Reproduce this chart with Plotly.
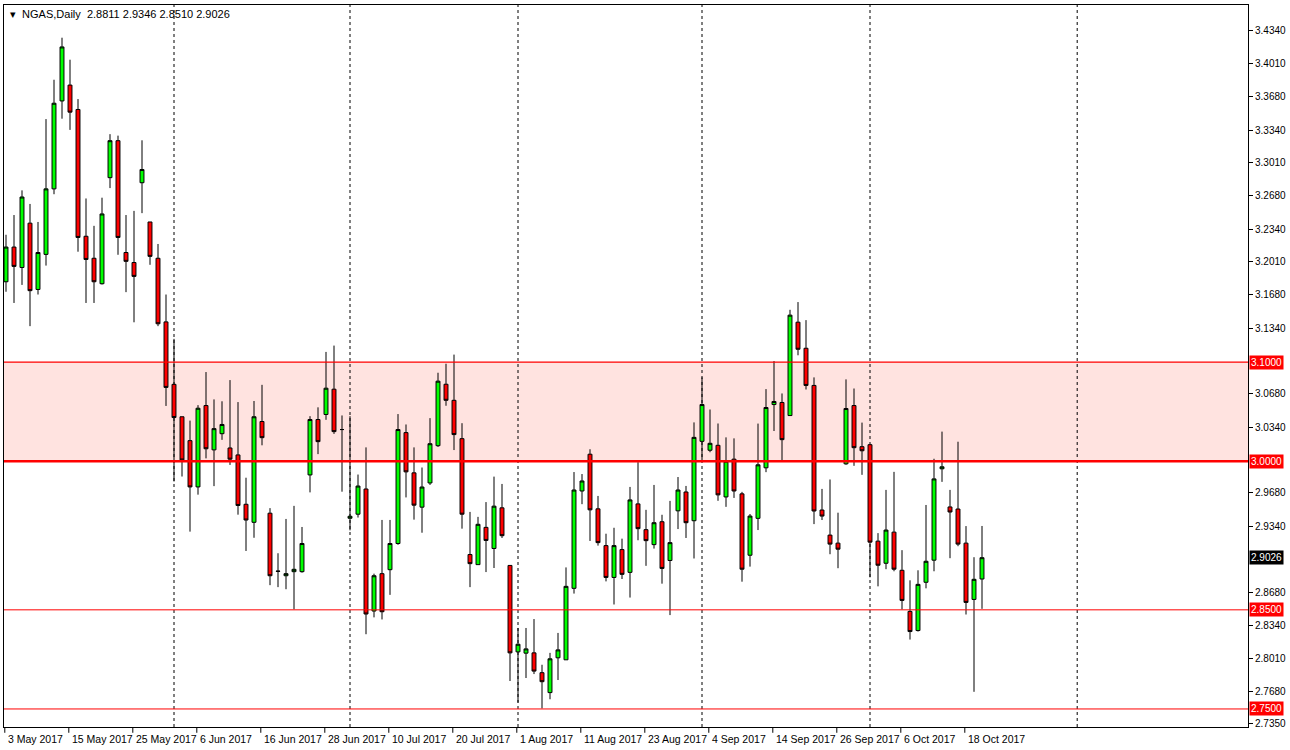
import plotly.graph_objects as go
import pandas as pd

dates = pd.bdate_range("2017-05-03", periods=123)
opens = [3.181,3.216,3.1954,3.2401,3.1732,3.2086,3.2747,3.3634,3.3794,3.3548,3.2269,3.2047,3.179,3.286,3.3233,3.2105,3.2004,3.2809,3.2413,3.2047,3.1405,3.0775,3.0448,3.0207,2.974,3.0561,3.0114,3.0277,3.0133,3.0063,2.9565,
 2.9383,3.040,2.9475,2.8888,2.8844,2.8885,2.8885,2.9861,3.042,3.0471,3.0726,3.0319,2.9424,2.9465,2.9719,2.8488,2.8865,2.8905,2.9169,3.0288,2.9882,2.9536,2.978,3.0156,3.0776,3.0614,3.0227,2.9058,2.8956,2.9332,2.9119,
 2.9529,2.8948,2.8076,2.8063,2.8066,2.7866,2.7665,2.8016,2.7996,2.8717,2.9699,3.007,2.9519,2.9148,2.8827,2.9108,2.8878,2.9569,2.9309,2.9158,2.9389,2.8998,2.9499,2.9689,2.9399,3.020,3.011,3.016,2.9639,3.002,
 2.967,2.9051,2.9423,2.9933,3.0571,3.0592,3.046,3.1402,3.1139,3.0764,2.9507,2.9254,2.9173,2.9973,3.0561,3.0146,3.0166,2.9193,2.897,2.9284,2.8899,2.8484,2.8291,2.8778,2.9001,2.9923,2.9538,2.9517,2.9173,2.8605,2.8811]
highs = [3.2284,3.2483,3.2732,3.2595,3.2413,3.3451,3.3848,3.4272,3.405,3.3653,3.265,3.2374,3.2658,3.3299,3.3284,3.2483,3.2525,3.3237,3.2413,3.2191,3.1681,3.1234,3.0448,3.0409,3.0565,3.0899,3.0623,3.0604,3.0818,3.0596,2.9833,
 3.0607,3.077,2.9526,2.9071,2.9417,2.9549,2.9336,3.0454,3.0543,3.1102,3.1166,3.0461,3.0454,2.9865,3.0139,2.8865,2.9407,2.9407,3.0475,3.037,3.0139,2.9936,3.0434,3.0892,3.0983,3.1075,3.0383,2.9488,2.9438,2.9587,2.9844,
 2.977,2.8948,2.8317,2.8317,2.8407,2.7946,2.8066,2.8267,2.8928,2.989,2.987,3.012,2.9649,2.9268,2.9328,2.9218,2.974,2.999,2.9509,2.976,2.9459,2.9599,2.984,2.975,3.0391,3.0845,3.0521,3.038,3.024,3.023,
 2.969,2.9467,3.0379,3.0727,3.101,3.0683,3.1527,3.1605,3.1423,3.0845,2.972,2.9815,2.948,3.0825,3.0733,3.0389,3.0166,2.9274,2.971,2.9892,2.9102,2.8798,2.8899,2.9558,3.0024,3.0298,2.971,3.0196,2.9345,2.9031,2.9346]
lows = [3.1709,3.1596,3.1778,3.1362,3.1681,3.1973,3.2693,3.3455,3.3342,3.2113,3.1596,3.1596,3.1782,3.2755,3.2082,3.1705,3.1401,3.2502,3.1981,3.1362,3.0557,2.9795,2.9845,2.9289,2.9662,3.0028,2.9748,3.0215,2.9962,2.946,2.9094,
 2.9227,3.016,2.8749,2.8729,2.8708,2.8505,2.8875,2.9685,3.0071,3.0417,3.0275,2.9692,2.9302,2.9431,2.8254,2.8424,2.8403,2.8651,2.9156,2.9634,2.941,2.9278,2.976,3.0143,3.0559,3.0112,2.9319,2.8729,2.8956,2.8881,2.8922,
 2.9225,2.7782,2.7565,2.7812,2.7852,2.7505,2.7598,2.7792,2.7996,2.8664,2.9566,2.9195,2.9148,2.8787,2.8554,2.8811,2.8624,2.9202,2.8944,2.9118,2.8764,2.8447,2.9315,2.9225,2.9018,3.000,3.009,2.960,2.9539,2.9629,
 2.8784,2.8936,2.9305,2.9889,3.0304,2.9994,3.046,3.1068,3.0723,2.9365,2.9406,2.9061,2.892,2.9963,2.9953,2.9862,2.8828,2.8737,2.891,2.8889,2.8504,2.820,2.8281,2.8717,2.8889,2.9791,2.9021,2.9142,2.8453,2.7673,2.851]
closes = [3.216,3.1965,3.2665,3.172,3.2105,3.2747,3.3611,3.4179,3.3521,3.2257,3.2035,3.181,3.2494,3.3233,3.2257,3.2016,3.1864,3.2942,3.2066,3.1386,3.0744,3.044,3.0012,2.974,3.0534,3.0125,3.0328,3.037,3.002,2.9553,2.9406,
 3.0448,3.0237,2.8844,2.889,2.8865,2.8909,2.9169,3.042,3.0197,3.0736,3.0298,3.0319,2.9444,2.9749,2.8458,2.8844,2.8481,2.9169,3.0319,2.9892,2.9556,2.9739,3.0176,3.0807,3.0614,3.0268,2.9465,2.8966,2.9363,2.920,2.9546,
 2.9248,2.8066,2.8153,2.8106,2.7882,2.7775,2.8006,2.8096,2.8737,2.9709,2.980,2.9509,2.9178,2.8827,2.9148,2.8858,2.9609,2.9319,2.9198,2.9379,2.8918,2.9178,2.9709,2.9379,3.024,3.0571,3.018,2.966,3.000,2.9699,
 2.891,2.9446,2.9963,3.0541,3.0602,3.0217,3.1473,3.1129,3.0764,2.9497,2.9446,2.9163,2.9112,3.0531,3.0136,3.0105,2.9183,2.895,2.9305,2.891,2.8595,2.8281,2.8757,2.899,2.9821,2.9943,2.9487,2.9163,2.8575,2.8808,2.9026]

x = list(range(len(dates)))
separator_idx = [21, 43, 64, 87, 108, 133.9]
tick_idx = list(range(0, 121, 8))
ytick_vals = [3.4340,3.4010,3.3680,3.3340,3.3010,3.2680,3.2340,3.2010,3.1680,3.1340,3.0680,3.0340,2.9680,2.9340,2.8680,2.8340,2.8010,2.7680,2.7350]
levels_red = [3.1000, 3.0000, 2.8500, 2.7500]
last_price = closes[-1]

FONT = "Liberation Sans"
fig = go.Figure()
fig.add_trace(go.Candlestick(
    x=x, open=opens, high=highs, low=lows, close=closes,
    increasing=dict(fillcolor="#00ff00", line=dict(color="black", width=1)),
    decreasing=dict(fillcolor="#ff0000", line=dict(color="black", width=1)),
    whiskerwidth=0, showlegend=False, hoverinfo="skip"))

shapes = [
    dict(type="rect", xref="paper", yref="y", x0=0, x1=1, y0=3.0, y1=3.1,
         fillcolor="#ffe3e0", line=dict(width=0), layer="below"),
    dict(type="line", xref="paper", yref="y", x0=0, x1=1, y0=3.1, y1=3.1, line=dict(color="red", width=1.2)),
    dict(type="line", xref="paper", yref="y", x0=0, x1=1, y0=3.0, y1=3.0, line=dict(color="red", width=2.5)),
    dict(type="line", xref="paper", yref="y", x0=0, x1=1, y0=2.85, y1=2.85, line=dict(color="red", width=1)),
    dict(type="line", xref="paper", yref="y", x0=0, x1=1, y0=2.75, y1=2.75, line=dict(color="red", width=1)),
]
for s in separator_idx:
    shapes.append(dict(type="line", xref="x", yref="paper", x0=s, x1=s, y0=0, y1=1,
                       line=dict(color="black", width=1, dash="dot"), layer="below"))
for t in tick_idx:
    shapes.append(dict(type="line", xref="x", yref="paper", x0=t - 0.15, x1=t - 0.15, y0=0, y1=-0.008,
                       line=dict(color="black", width=1)))

annotations = [dict(xref="paper", yref="paper", x=0.003, y=0.998, xanchor="left", yanchor="top",
                    text="▾  NGAS,Daily  2.8811 2.9346 2.8510 2.9026", showarrow=False,
                    font=dict(family=FONT, size=11, color="black"))]
for t in tick_idx:
    annotations.append(dict(xref="x", yref="paper", x=t + 0.05, y=-0.006, xanchor="left", yanchor="top",
                            text=dates[t].strftime("%-d %b %Y"), showarrow=False,
                            font=dict(family=FONT, size=10.5, color="black")))
for lv in levels_red:
    annotations.append(dict(xref="paper", yref="y", x=1.001, y=lv, xanchor="left", yanchor="middle",
                            text=f"{lv:.4f}", showarrow=False, bgcolor="#ff0000",
                            font=dict(family=FONT, size=10, color="white"), borderpad=1))
annotations.append(dict(xref="paper", yref="y", x=1.001, y=last_price, xanchor="left", yanchor="middle",
                        text=f"{last_price:.4f}", showarrow=False, bgcolor="black",
                        font=dict(family=FONT, size=10, color="white"), borderpad=1))

fig.update_layout(
    width=1290, height=750, margin=dict(l=4, r=42, t=5, b=23, autoexpand=False),
    paper_bgcolor="white", plot_bgcolor="white",
    shapes=shapes, annotations=annotations,
    xaxis=dict(range=[-0.25, 155.25], showgrid=False, zeroline=False, showticklabels=False,
               rangeslider=dict(visible=False), showline=True, linecolor="black", mirror=True,
               ticks="", automargin=False),
    yaxis=dict(range=[2.7318, 3.4602], side="right", showgrid=False, zeroline=False,
               tickvals=ytick_vals, ticktext=[f"{v:.4f}" for v in ytick_vals],
               ticks="outside", ticklen=4, tickcolor="black", automargin=False,
               tickfont=dict(family=FONT, size=10, color="black"),
               showline=True, linecolor="black", mirror=True),
)
fig.write_html("out.html", config={"displayModeBar": False},
               post_script="document.body.style.margin='0';document.body.style.overflow='hidden';")
